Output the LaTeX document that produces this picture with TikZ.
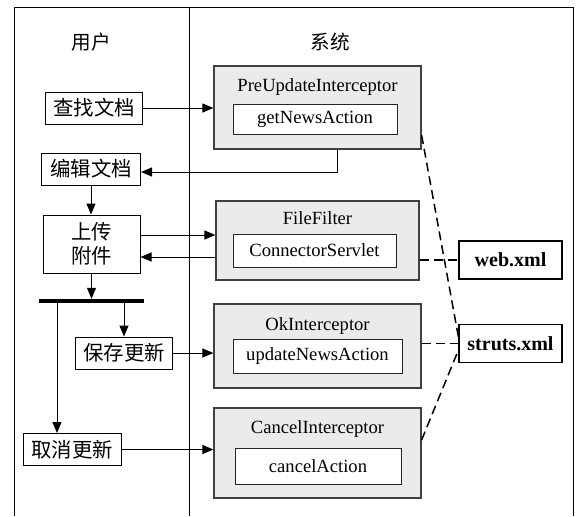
\documentclass[tikz,border=0pt]{standalone}
\usepackage{fontspec}
\setmainfont{Liberation Serif}
\newfontfamily\cjk{Noto Sans CJK SC}
\usetikzlibrary{
    arrows.meta,
    positioning,
    calc
}

\begin{document}
\begin{tikzpicture}[
    x=0.5pt, y=-0.5pt,
    font=\fontsize{9.3pt}{11pt}\selectfont,
    lane/.style={font=\cjk\fontsize{9.8pt}{12pt}\selectfont},
    task/.style={rectangle, draw=black, line width=0.5pt, fill=white, minimum width=48.5pt,
                 minimum height=16pt, inner sep=1pt, align=center,
                 font=\cjk\fontsize{10.2pt}{12pt}\selectfont},
    interceptor/.style={rectangle, draw=black!75, line width=0.6pt, fill=black!8},
    action/.style={rectangle, draw=black!85, line width=0.5pt, fill=white, inner sep=1pt},
    config/.style={rectangle, draw=black, line width=0.6pt, fill=white, minimum width=51.5pt,
                   minimum height=19pt, font=\bfseries\fontsize{10pt}{12pt}\selectfont},
    arrow/.style={-{Triangle[length=5.5pt,width=4.5pt]}, line width=0.5pt},
    link/.style={dash pattern=on 4.5pt off 2.5pt, line width=0.75pt}
]
    \useasboundingbox (0,0) rectangle (582,516);

    % Swimlane frame
    \draw[line width=0.5pt] (14,516) -- (14,7) -- (573,7) -- (573,516);
    \draw[line width=0.5pt] (189,7) -- (189,516);
    \node (userLane) [lane] at (91,42) {用户};
    \node (sysLane) [lane] at (330,42) {系统};

    % User lane
    \node (find) [task] at (94,108) {查找文档};
    \node (edit) [task, minimum width=49.5pt] at (91,169) {编辑文档};
    \node (upload) [task, minimum height=29pt] at (91.5,244) {上传\\附件};
    \node (fork) [fill=black, minimum width=52.5pt, minimum height=1.8pt, inner sep=0pt] at (91.5,301) {};
    \node (save) [task] at (124,353) {保存更新};
    \node (cancel) [task, minimum width=49pt] at (72,449.5) {取消更新};

    % System lane
    \node (pre) [interceptor, minimum width=103.5pt, minimum height=41.5pt] at (317.5,107.5) {};
    \node (preT) at (317.5,87) {PreUpdateInterceptor};
    \node (getNews) [action, minimum width=82pt, minimum height=15pt] at (315,119) {getNewsAction};

    \node (file) [interceptor, minimum width=101.5pt, minimum height=39.5pt] at (317.5,240.5) {};
    \node (fileT) at (317.5,218) {FileFilter};
    \node (servlet) [action, minimum width=81.5pt, minimum height=16.5pt] at (314.5,250.5) {ConnectorServlet};

    \node (ok) [interceptor, minimum width=103.5pt, minimum height=42pt] at (317.5,346) {};
    \node (okT) at (317.5,326) {OkInterceptor};
    \node (updateNews) [action, minimum width=84.5pt, minimum height=17pt] at (317.5,356) {updateNewsAction};

    \node (cancelI) [interceptor, minimum width=103.5pt, minimum height=45pt] at (317.5,453) {};
    \node (cancelT) at (317.5,429) {CancelInterceptor};
    \node (cancelAct) [action, minimum width=83pt, minimum height=18pt] at (318,466) {cancelAction};

    % Config files
    \node (web) [config] at (510.5,260) {web.xml};
    \node (struts) [config] at (510.5,343.5) {struts.xml};

    % Flow
    \draw [arrow] (find.east) -- (find.east -| pre.west);
    \draw [arrow] ([xshift=9.75pt]pre.south) |- ([yshift=-1.5pt]edit.east);
    \draw [arrow] (edit.south) -- (edit.south |- upload.north);
    \draw [arrow] ([yshift=4.5pt]upload.east) -- ([yshift=4.5pt]upload.east -| file.west);
    \draw [arrow] ([yshift=-6.5pt]upload.east -| file.west) -- ([yshift=-6.5pt]upload.east);
    \draw [arrow] (upload.south) -- (upload.south |- fork.north);
    \draw [arrow] (save.north |- fork.south) -- (save.north);
    \draw [arrow] ([xshift=-7.5pt]cancel.north |- fork.south) -- ([xshift=-7.5pt]cancel.north);
    \draw [arrow] (save.east) -- (save.east -| ok.west);
    \draw [arrow] (cancel.east) -- (cancel.east -| cancelI.west);

    % Configuration links
    \draw [link] ([yshift=-13.75pt]pre.east) -- ([yshift=3.25pt]struts.west);
    \draw [link] (web.west -| file.east) -- (web.west);
    \draw [link] (struts.west -| ok.east) -- (struts.west);
    \draw [link] ([yshift=6.5pt]cancelI.east) -- ([yshift=-3.25pt]struts.west);

\end{tikzpicture}
\end{document}
